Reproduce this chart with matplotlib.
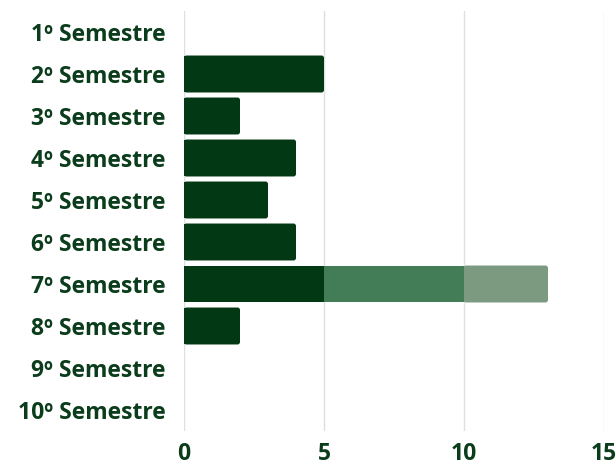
import matplotlib
matplotlib.use("Agg")
import matplotlib.pyplot as plt
from matplotlib.patches import FancyBboxPatch, Rectangle

# Data
categories = ["1º Semestre", "2º Semestre", "3º Semestre", "4º Semestre", "5º Semestre",
              "6º Semestre", "7º Semestre", "8º Semestre", "9º Semestre", "10º Semestre"]
serie_a = [0, 5, 2, 4, 3, 4, 5, 2, 0, 0]
serie_b = [0, 0, 0, 0, 0, 0, 5, 0, 0, 0]
serie_c = [0, 0, 0, 0, 0, 0, 3, 0, 0, 0]
x_ticks = [0, 5, 10, 15]

colors = ["#023813", "#437d58", "#7b9a80"]
text_color = "#0b3d1c"

plt.rcParams['font.family'] = ['Open Sans', 'DejaVu Sans']

fig = plt.figure(figsize=(6.16, 4.66), dpi=100)
ax = fig.add_axes([184/616, 1-431/466, 420/616, 420/466])

ypos = list(range(len(categories)))
series = [serie_a, serie_b, serie_c]
left = [0]*len(categories)
bars = []
for s, c in zip(series, colors):
    b = ax.barh(ypos, s, left=left, height=0.88, color=c, zorder=2)
    bars.append(b)
    left = [l + v for l, v in zip(left, s)]

# round the right end of the last visible segment of every bar
totals = left
for i in range(len(categories)):
    if totals[i] == 0:
        continue
    last = max(k for k in range(3) if series[k][i] > 0)
    p = bars[last][i]
    x0, y0, w, h = p.get_x(), p.get_y(), p.get_width(), p.get_height()
    p.set_visible(False)
    r = 0.09
    fb = FancyBboxPatch((x0, y0), w, h, boxstyle=f"round,pad=0,rounding_size={r}",
                        mutation_aspect=28/42, fc=colors[last], ec="none", zorder=2)
    ax.add_patch(fb)
    ax.add_patch(Rectangle((x0, y0), min(w, 0.3), h, fc=colors[last], ec="none", zorder=2))

ax.set_xlim(0, 15)
ax.set_ylim(9.5, -0.5)
ax.set_xticks(x_ticks)
ax.set_yticks(ypos)
ax.set_yticklabels(categories)
ax.grid(axis="x", color="#dde0e0", linewidth=1, zorder=0)
ax.tick_params(length=0)
ax.tick_params(axis="y", pad=13, labelsize=16.5, labelcolor=text_color)
ax.tick_params(axis="x", pad=8, labelsize=16.5, labelcolor=text_color)
for t in ax.get_xticklabels() + ax.get_yticklabels():
    t.set_fontweight("bold")
for s in ax.spines.values():
    s.set_visible(False)

fig.savefig("out.png", dpi=100)
